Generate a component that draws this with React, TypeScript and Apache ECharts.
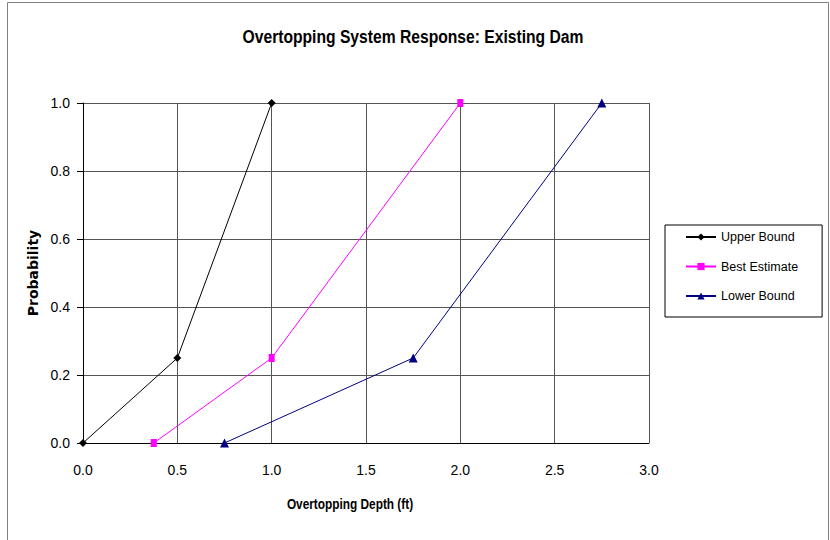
import React, { useEffect, useRef } from "react";
import * as echarts from "echarts";

// Overtopping depth (ft) vs. probability for the three response curves
const upperBound: [number, number][] = [
  [0.0, 0.0],
  [0.5, 0.25],
  [1.0, 1.0],
];
const bestEstimate: [number, number][] = [
  [0.375, 0.0],
  [1.0, 0.25],
  [2.0, 1.0],
];
const lowerBound: [number, number][] = [
  [0.75, 0.0],
  [1.75, 0.25],
  [2.75, 1.0],
];

const chartTitle = "Overtopping System Response: Existing Dam";
const xAxisTitle = "Overtopping Depth (ft)";
const yAxisTitle = "Probability";

const FONT = "'Liberation Sans', Arial, sans-serif";
const WIDE_BOLD = "'DejaVu Sans', 'Liberation Sans', sans-serif";

export default function App() {
  const ref = useRef<HTMLDivElement>(null);

  useEffect(() => {
    if (!ref.current) return;
    const chart = echarts.init(ref.current, null, { renderer: "svg" });
    chart.setOption({
      animation: false,
      backgroundColor: "#ffffff",
      textStyle: { fontFamily: FONT },
      graphic: [
        {
          type: "rect",
          shape: { x: 7.5, y: 2.5, width: 821, height: 600 },
          style: { fill: "none", stroke: "#808080", lineWidth: 1 },
          silent: true,
        },
        // condensed bold headings
        {
          type: "text",
          x: 413,
          y: 37,
          scaleX: 0.87,
          style: {
            text: chartTitle,
            font: `bold 18px ${FONT}`,
            fill: "#000",
            textAlign: "center",
            textVerticalAlign: "middle",
          },
        },
        {
          type: "text",
          x: 350,
          y: 504,
          scaleX: 0.79,
          style: {
            text: xAxisTitle,
            font: `bold 15px ${FONT}`,
            fill: "#000",
            textAlign: "center",
            textVerticalAlign: "middle",
          },
        },
      ],
      grid: { left: 83, right: 181, top: 103, bottom: 97, containLabel: false },
      xAxis: {
        type: "value",
        min: 0,
        max: 3,
        interval: 0.5,
        axisLine: { show: true, lineStyle: { color: "#000", width: 1 } },
        axisTick: { show: false },
        axisLabel: {
          formatter: (v: number) => v.toFixed(1),
          fontFamily: FONT,
          fontSize: 14,
          color: "#000",
          margin: 20,
        },
        splitLine: { show: true, lineStyle: { color: "#555", width: 1 } },
      },
      yAxis: {
        type: "value",
        min: 0,
        max: 1,
        interval: 0.2,
        name: yAxisTitle,
        nameLocation: "middle",
        nameGap: 43,
        nameTextStyle: { fontFamily: WIDE_BOLD, fontSize: 14, fontWeight: "bold", color: "#000" },
        axisLine: { show: true, lineStyle: { color: "#000", width: 1 } },
        axisTick: { show: true, inside: false, length: 6, lineStyle: { color: "#000" } },
        axisLabel: {
          formatter: (v: number) => v.toFixed(1),
          fontFamily: FONT,
          fontSize: 14,
          color: "#000",
          margin: 13,
        },
        splitLine: { show: true, lineStyle: { color: "#555", width: 1 } },
      },
      legend: {
        orient: "vertical",
        left: 665,
        top: 225,
        padding: [3, 24, 12, 20],
        itemGap: 11.5,
        itemWidth: 30,
        itemHeight: 9,
        borderColor: "#000",
        borderWidth: 1,
        textStyle: { fontFamily: FONT, fontSize: 12.5, color: "#000", lineHeight: 18 },
        data: ["Upper Bound", "Best Estimate", "Lower Bound"],
      },
      series: [
        {
          name: "Upper Bound",
          type: "line",
          data: upperBound,
          symbol: "diamond",
          symbolSize: 8,
          lineStyle: { color: "#000000", width: 1 },
          itemStyle: { color: "#000000" },
        },
        {
          name: "Best Estimate",
          type: "line",
          data: bestEstimate,
          symbol: "rect",
          symbolSize: [6, 8],
          lineStyle: { color: "#ff00ff", width: 1 },
          itemStyle: { color: "#ff00ff" },
        },
        {
          name: "Lower Bound",
          type: "line",
          data: lowerBound,
          symbol: "triangle",
          symbolSize: 9,
          lineStyle: { color: "#000080", width: 1 },
          itemStyle: { color: "#000080" },
        },
      ],
    });
    return () => chart.dispose();
  }, []);

  return (
    <div
      ref={ref}
      style={{ position: "absolute", left: 0, top: 0, width: 830, height: 540 }}
    />
  );
}
